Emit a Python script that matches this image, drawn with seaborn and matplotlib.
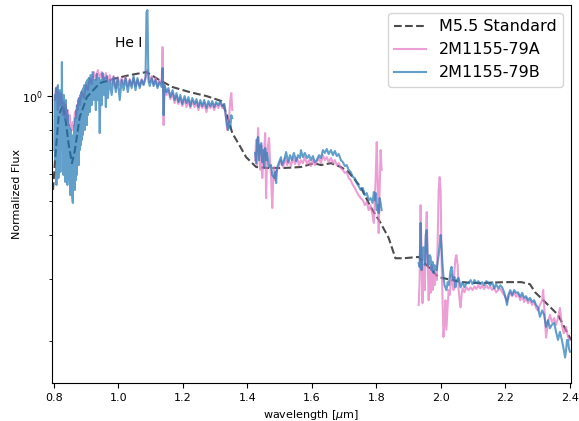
import matplotlib
matplotlib.use("Agg")
import matplotlib.pyplot as plt
import numpy as np
import pandas as pd
import seaborn as sns
from matplotlib.ticker import NullFormatter, FixedLocator

# ---------------- data ----------------
std_wave = [0.797, 0.806, 0.815, 0.828, 0.837, 0.846, 0.856, 0.865, 0.880, 0.902, 0.942, 0.995,
            1.035, 1.087, 1.127, 1.168, 1.220, 1.273, 1.319, 1.337, 1.353, 1.375, 1.396, 1.427,
            1.461, 1.514, 1.566, 1.606, 1.628, 1.659, 1.690, 1.714, 1.751, 1.782, 1.813, 1.838,
            1.859, 1.884, 1.931, 1.961, 1.992, 2.063, 2.116, 2.199, 2.249, 2.276, 2.292, 2.323,
            2.363, 2.403]
std_flux = [0.539, 0.701, 0.882, 0.942, 0.843, 0.724, 0.643, 0.701, 0.871, 0.993, 1.089, 1.126,
            1.148, 1.171, 1.111, 1.061, 1.027, 1.000, 0.968, 0.882, 0.784, 0.724, 0.669, 0.627,
            0.623, 0.623, 0.627, 0.643, 0.635, 0.643, 0.627, 0.606, 0.550, 0.482, 0.434, 0.393,
            0.344, 0.344, 0.347, 0.325, 0.304, 0.294, 0.292, 0.294, 0.294, 0.290, 0.275, 0.258,
            0.237, 0.201]

# --- 2M1155-79B, segment 1 (0.80-1.35 um)
b1_wave = [0.8015, 0.8031, 0.8046, 0.8062, 0.8077, 0.8093, 0.8108, 0.8124, 0.8139, 0.8154,
           0.8170, 0.8185, 0.8201, 0.8216, 0.8232, 0.8247, 0.8263, 0.8278, 0.8293, 0.8309,
           0.8324, 0.8340, 0.8355, 0.8371, 0.8386, 0.8402, 0.8417, 0.8432, 0.8448, 0.8463,
           0.8479, 0.8494, 0.8510, 0.8525, 0.8541, 0.8556, 0.8571, 0.8587, 0.8602, 0.8618,
           0.8633, 0.8649, 0.8664, 0.8680, 0.8695, 0.8710, 0.8726, 0.8741, 0.8757, 0.8772,
           0.8788, 0.8803, 0.8819, 0.8834, 0.8849, 0.8865, 0.8880, 0.8896, 0.8911, 0.8927,
           0.8942, 0.8958, 0.8973, 0.8988, 0.9004, 0.9019, 0.9035, 0.9050,
           0.908, 0.911, 0.914, 0.917, 0.920, 0.924,
           0.927, 0.930, 0.933, 0.936, 0.939, 0.942, 0.945, 0.948, 0.951, 0.954,
           0.958, 0.961, 0.964, 0.967,
           0.973, 0.979, 0.985, 0.992, 0.998, 1.004, 1.010, 1.016, 1.022, 1.029,
           1.035, 1.041, 1.047, 1.053, 1.059, 1.066, 1.072, 1.078, 1.084,
           1.087, 1.090, 1.093,
           1.097, 1.103, 1.109, 1.115, 1.121, 1.127, 1.134,
           1.137, 1.140,
           1.143, 1.149, 1.155, 1.161, 1.168, 1.174, 1.180, 1.186, 1.192, 1.198,
           1.205, 1.211, 1.217, 1.223, 1.229, 1.236, 1.242, 1.248, 1.254, 1.260,
           1.266, 1.273, 1.279, 1.285, 1.291, 1.297, 1.303, 1.310, 1.316, 1.322, 1.328,
           1.331, 1.334, 1.337, 1.340, 1.343, 1.347, 1.350, 1.353]
b1_flux = [0.701, 1.007, 0.656, 1.054, 0.557, 1.027, 0.615, 1.075, 0.583, 0.974,
           0.656, 1.040, 0.607, 1.007, 0.701, 1.251, 0.724, 0.987, 0.595, 1.007,
           0.623, 0.942, 0.568, 0.974, 0.656, 0.912, 0.557, 0.882, 0.615, 0.826,
           0.575, 0.810, 0.521, 0.800, 0.539, 0.774, 0.511, 0.495, 0.749, 0.557,
           0.826, 0.539, 0.865, 0.575, 0.912, 0.595, 0.942, 0.656, 0.974, 0.635,
           0.987, 0.701, 1.007, 0.724, 1.027, 0.749, 1.040, 0.774, 1.054, 0.810,
           1.075, 0.800, 1.068, 0.854, 1.096, 0.826, 1.111, 0.882,
           1.126, 0.900, 1.148, 0.942, 1.171, 0.974,
           1.111, 0.912, 1.156, 0.974, 1.126, 0.784, 1.111, 0.942, 1.163, 1.007,
           1.126, 0.930, 1.141, 0.987,
           1.111, 1.007, 1.133, 1.027, 1.126, 0.974, 1.111, 1.040, 1.126, 1.027,
           1.111, 1.054, 1.141, 1.040, 1.126, 1.054, 1.111, 1.075, 1.126,
           1.738, 1.761, 1.111,
           1.068, 1.126, 1.068, 1.111, 1.054, 1.096, 1.061,
           1.202, 0.882,
           1.075, 1.027, 1.054, 0.993, 1.040, 0.974, 1.020, 0.961, 1.007, 0.949,
           1.000, 0.955, 0.993, 0.936, 0.987, 0.949, 0.980, 0.930, 0.974, 0.936,
           0.974, 0.924, 0.968, 0.936, 0.968, 0.930, 0.961, 0.942, 0.968, 0.936, 0.949,
           0.912, 0.865, 0.826, 0.800, 0.843, 0.810, 0.882, 0.865]

# --- 2M1155-79A, segment 1
a1_wave = [0.803, 0.806, 0.809, 0.812, 0.815, 0.819, 0.822, 0.825, 0.828, 0.831,
           0.834, 0.837, 0.840, 0.843, 0.846, 0.849, 0.853, 0.856, 0.859, 0.862,
           0.865, 0.868, 0.871, 0.874, 0.877, 0.880,
           0.886, 0.893, 0.899, 0.905, 0.911, 0.917, 0.924, 0.930, 0.936, 0.942,
           0.948, 0.954, 0.961, 0.967, 0.973, 0.979, 0.985, 0.992, 0.998, 1.004,
           1.010, 1.016, 1.022, 1.029, 1.035, 1.041, 1.047, 1.053, 1.059, 1.066,
           1.072, 1.078, 1.084, 1.090, 1.097, 1.103, 1.109, 1.115, 1.121, 1.127, 1.134,
           1.137, 1.140,
           1.143, 1.149, 1.155, 1.161, 1.168, 1.174, 1.180, 1.186, 1.192, 1.198,
           1.205, 1.211, 1.217, 1.223, 1.229, 1.236, 1.242, 1.248, 1.254, 1.260,
           1.266, 1.273, 1.279, 1.285, 1.291, 1.297, 1.303, 1.310, 1.316, 1.322, 1.328,
           1.331, 1.334, 1.337, 1.340, 1.343, 1.347, 1.350, 1.353]
a1_flux = [0.974, 1.040, 1.061, 0.912, 1.027, 0.942, 1.020, 0.974, 0.882, 0.961,
           0.865, 0.942, 0.854, 0.912, 0.826, 0.882, 0.810, 0.800, 0.843, 0.826,
           0.900, 0.865, 0.942, 0.912, 0.987, 0.942,
           1.027, 0.987, 1.075, 1.040, 1.126, 1.082, 1.171, 1.111, 1.187, 1.126,
           1.171, 1.111, 1.163, 1.096, 1.148, 1.082, 1.141, 1.054, 1.133, 1.075,
           1.126, 1.082, 1.133, 1.068, 1.118, 1.075, 1.126, 1.068, 1.111, 1.068,
           1.118, 1.082, 1.133, 1.187, 1.096, 1.141, 1.082, 1.126, 1.068, 1.111, 1.082,
           1.380, 0.826,
           1.068, 1.007, 1.040, 0.980, 1.020, 0.955, 1.000, 0.949, 0.987, 0.936,
           0.980, 0.930, 0.974, 0.924, 0.968, 0.930, 0.961, 0.912, 0.955, 0.924,
           0.955, 0.900, 0.949, 0.924, 0.949, 0.912, 0.949, 0.924, 0.955, 0.924, 0.949,
           0.900, 0.854, 0.800, 0.810, 0.865, 0.974, 1.020, 0.912]

# --- 2M1155-79B, segment 2 (1.42-1.82 um)
b2_wave = [1.424, 1.427, 1.430, 1.433, 1.436, 1.440, 1.443, 1.446, 1.449, 1.452,
           1.455, 1.458, 1.461, 1.467, 1.473, 1.477, 1.483, 1.486, 1.489, 1.492,
           1.498, 1.504, 1.507, 1.514, 1.520, 1.526, 1.532, 1.538, 1.544, 1.551,
           1.557, 1.563, 1.566, 1.572, 1.578, 1.585, 1.591, 1.597, 1.603, 1.609,
           1.615, 1.622, 1.628, 1.634, 1.640, 1.646, 1.652, 1.659, 1.665, 1.671,
           1.677, 1.683, 1.690, 1.696, 1.702, 1.708, 1.714, 1.720, 1.727, 1.733,
           1.739, 1.745, 1.751, 1.758, 1.764, 1.770, 1.776, 1.782, 1.788, 1.792,
           1.795, 1.798, 1.801, 1.804, 1.807, 1.810, 1.813, 1.816]
b2_flux = [0.688, 0.643, 0.749, 0.764, 0.656, 0.724, 0.734, 0.647, 0.701, 0.623,
           0.710, 0.656, 0.688, 0.627, 0.635, 0.595, 0.583, 0.607, 0.564, 0.623,
           0.647, 0.669, 0.635, 0.656, 0.692, 0.647, 0.678, 0.656, 0.688, 0.652,
           0.678, 0.665, 0.701, 0.669, 0.688, 0.665, 0.678, 0.656, 0.674, 0.647,
           0.656, 0.678, 0.665, 0.701, 0.688, 0.706, 0.683, 0.701, 0.678, 0.697,
           0.674, 0.683, 0.656, 0.647, 0.631, 0.635, 0.615, 0.607, 0.587, 0.583,
           0.564, 0.553, 0.539, 0.546, 0.521, 0.528, 0.504, 0.511, 0.495, 0.532,
           0.504, 0.528, 0.472, 0.488, 0.463, 0.511, 0.495, 0.472]

# --- 2M1155-79A, segment 2
a2_wave = [1.424, 1.427, 1.430, 1.433, 1.436, 1.440, 1.443, 1.446, 1.449, 1.452,
           1.455, 1.458, 1.461, 1.464, 1.467, 1.470, 1.473, 1.477, 1.480, 1.483,
           1.486, 1.489, 1.492, 1.498, 1.504, 1.511, 1.517, 1.523, 1.529, 1.535,
           1.541, 1.548, 1.554, 1.560, 1.566, 1.572, 1.578, 1.585, 1.591, 1.597,
           1.603, 1.609, 1.615, 1.622, 1.628, 1.634, 1.640, 1.646, 1.652, 1.659,
           1.665, 1.671, 1.677, 1.683, 1.690, 1.696, 1.702, 1.708, 1.714, 1.720,
           1.727, 1.733, 1.739, 1.745, 1.751, 1.758, 1.764, 1.770, 1.776, 1.782,
           1.788, 1.792, 1.795, 1.798, 1.801, 1.804, 1.807, 1.810, 1.813, 1.816]
a2_flux = [0.656, 0.749, 0.635, 0.810, 0.701, 0.615, 0.724, 0.583, 0.656, 0.701,
           0.784, 0.511, 0.678, 0.724, 0.759, 0.656, 0.595, 0.479, 0.575, 0.627,
           0.575, 0.607, 0.615, 0.635, 0.656, 0.627, 0.665, 0.635, 0.656, 0.631,
           0.665, 0.639, 0.665, 0.635, 0.656, 0.643, 0.669, 0.639, 0.656, 0.631,
           0.656, 0.635, 0.647, 0.665, 0.643, 0.678, 0.656, 0.669, 0.647, 0.665,
           0.643, 0.656, 0.635, 0.643, 0.623, 0.615, 0.603, 0.607, 0.583, 0.575,
           0.557, 0.546, 0.532, 0.521, 0.511, 0.504, 0.488, 0.498, 0.472, 0.488,
           0.457, 0.434, 0.504, 0.595, 0.739, 0.575, 0.406, 0.539, 0.701, 0.615]

# --- 2M1155-79B, segment 3 (1.93-2.40 um)
b3_wave = [1.931, 1.934, 1.937, 1.940, 1.943, 1.946, 1.950, 1.953, 1.956, 1.959,
           1.962, 1.965, 1.968, 1.971, 1.974, 1.977, 1.980, 1.983, 1.987, 1.990,
           1.993, 1.996, 1.999, 2.002, 2.005, 2.008, 2.011, 2.014, 2.017, 2.021,
           2.024, 2.027, 2.030, 2.033, 2.036, 2.039, 2.042, 2.045, 2.048, 2.055,
           2.061, 2.067, 2.073, 2.079, 2.086, 2.092, 2.098, 2.104, 2.110, 2.116,
           2.122, 2.128, 2.134, 2.141, 2.147, 2.153, 2.159, 2.165, 2.171, 2.178,
           2.184, 2.190, 2.196, 2.202, 2.205, 2.209, 2.215, 2.221, 2.227, 2.233,
           2.239, 2.246, 2.252, 2.258, 2.264, 2.270, 2.276, 2.283, 2.289, 2.295,
           2.301, 2.307, 2.314, 2.320, 2.326, 2.332, 2.338, 2.344, 2.351, 2.357,
           2.363, 2.369, 2.375, 2.381, 2.385, 2.388, 2.391, 2.394, 2.397, 2.400]
b3_flux = [0.333, 0.325, 0.434, 0.318, 0.363, 0.370, 0.329, 0.401, 0.414, 0.333,
           0.329, 0.351, 0.347, 0.318, 0.336, 0.312, 0.329, 0.322, 0.318, 0.336,
           0.351, 0.375, 0.401, 0.370, 0.329, 0.304, 0.288, 0.284, 0.279, 0.294,
           0.288, 0.302, 0.318, 0.325, 0.304, 0.298, 0.304, 0.284, 0.298, 0.302,
           0.284, 0.294, 0.284, 0.292, 0.292, 0.298, 0.290, 0.298, 0.292, 0.296,
           0.290, 0.294, 0.288, 0.296, 0.292, 0.288, 0.294, 0.282, 0.290, 0.282,
           0.288, 0.284, 0.275, 0.261, 0.253, 0.270, 0.279, 0.270, 0.279, 0.274,
           0.275, 0.267, 0.274, 0.265, 0.268, 0.261, 0.265, 0.258, 0.261, 0.253,
           0.249, 0.234, 0.244, 0.237, 0.219, 0.229, 0.217, 0.222, 0.225, 0.212,
           0.201, 0.212, 0.201, 0.188, 0.179, 0.188, 0.201, 0.201, 0.190, 0.186]

# --- 2M1155-79A, segment 3
a3_wave = [1.931, 1.934, 1.937, 1.940, 1.943, 1.946, 1.950, 1.953, 1.956, 1.959,
           1.962, 1.965, 1.968, 1.971, 1.974, 1.977, 1.980, 1.983, 1.987, 1.990,
           1.993, 1.996, 1.999, 2.002, 2.005, 2.008, 2.011, 2.014, 2.017, 2.021,
           2.024, 2.027, 2.030, 2.033, 2.036, 2.039, 2.042, 2.045, 2.048, 2.052,
           2.055, 2.058, 2.061, 2.064, 2.067, 2.073, 2.079, 2.086, 2.092, 2.098,
           2.104, 2.110, 2.116, 2.122, 2.128, 2.134, 2.141, 2.147, 2.153, 2.159,
           2.165, 2.171, 2.178, 2.184, 2.190, 2.196, 2.202, 2.205, 2.209, 2.215,
           2.221, 2.227, 2.233, 2.239, 2.246, 2.252, 2.258, 2.264, 2.270, 2.276,
           2.283, 2.289, 2.295, 2.301, 2.307, 2.314, 2.317, 2.320, 2.326, 2.332,
           2.338, 2.344, 2.351, 2.357, 2.363, 2.369, 2.375, 2.381, 2.388, 2.394, 2.400]
a3_flux = [0.253, 0.298, 0.488, 0.340, 0.256, 0.329, 0.279, 0.388, 0.466, 0.340,
           0.261, 0.318, 0.274, 0.329, 0.279, 0.308, 0.288, 0.318, 0.298, 0.388,
           0.539, 0.587, 0.539, 0.340, 0.261, 0.205, 0.229, 0.261, 0.215, 0.253,
           0.279, 0.270, 0.288, 0.308, 0.292, 0.279, 0.318, 0.344, 0.351, 0.329,
           0.279, 0.261, 0.249, 0.270, 0.282, 0.275, 0.284, 0.279, 0.284, 0.279,
           0.286, 0.281, 0.288, 0.282, 0.288, 0.281, 0.288, 0.282, 0.286, 0.279,
           0.284, 0.275, 0.279, 0.282, 0.275, 0.270, 0.265, 0.258, 0.265, 0.275,
           0.268, 0.275, 0.267, 0.272, 0.261, 0.268, 0.258, 0.265, 0.256, 0.261,
           0.253, 0.258, 0.248, 0.244, 0.253, 0.261, 0.279, 0.253, 0.204, 0.226,
           0.237, 0.226, 0.232, 0.222, 0.232, 0.248, 0.222, 0.210, 0.219, 0.205, 0.201]

x_ticks = [0.8, 1.0, 1.2, 1.4, 1.6, 1.8, 2.0, 2.2, 2.4]
x_tick_labels = ["0.8", "1.0", "1.2", "1.4", "1.6", "1.8", "2.0", "2.2", "2.4"]

# ---------------- plot ----------------
fig, ax = plt.subplots(figsize=(5.79, 4.21), dpi=100)
fig.subplots_adjust(left=0.0898, right=0.986, top=0.988, bottom=0.0903)

pink = "#e377c2"
blue = "#1f77b4"

std_df = pd.DataFrame({"wave": std_wave, "flux": std_flux})
sns.lineplot(data=std_df, x="wave", y="flux", ax=ax, color="black", alpha=0.7,
             lw=1.5, linestyle="--", estimator=None, label="M5.5 Standard")

a_segments = [(a1_wave, a1_flux), (a2_wave, a2_flux), (a3_wave, a3_flux)]
b_segments = [(b1_wave, b1_flux), (b2_wave, b2_flux), (b3_wave, b3_flux)]

for i, (w, f) in enumerate(a_segments):
    df = pd.DataFrame({"wave": w, "flux": f})
    sns.lineplot(data=df, x="wave", y="flux", ax=ax, color=pink, alpha=0.7, lw=1.5,
                 estimator=None, label="2M1155-79A" if i == 0 else "_nolegend_")
for i, (w, f) in enumerate(b_segments):
    df = pd.DataFrame({"wave": w, "flux": f})
    sns.lineplot(data=df, x="wave", y="flux", ax=ax, color=blue, alpha=0.7, lw=1.5,
                 estimator=None, label="2M1155-79B" if i == 0 else "_nolegend_")

ax.set_yscale("log")
ax.set_xlim(0.794, 2.403)
ax.set_ylim(0.1514, 1.82)
ax.xaxis.set_major_locator(FixedLocator(x_ticks))
ax.set_xticklabels(x_tick_labels)
ax.yaxis.set_minor_formatter(NullFormatter())
ax.tick_params(axis="both", which="both", labelsize=8)

ax.set_xlabel(r"wavelength [$\mu$m]", fontsize=8)
ax.set_ylabel("Normalized Flux", fontsize=8, labelpad=0)

ax.text(0.99, 1.38, "He I", fontsize=10, va="baseline", ha="left")

ax.legend(loc="upper right", fontsize=11.5)

fig.savefig("out.png", dpi=100)
